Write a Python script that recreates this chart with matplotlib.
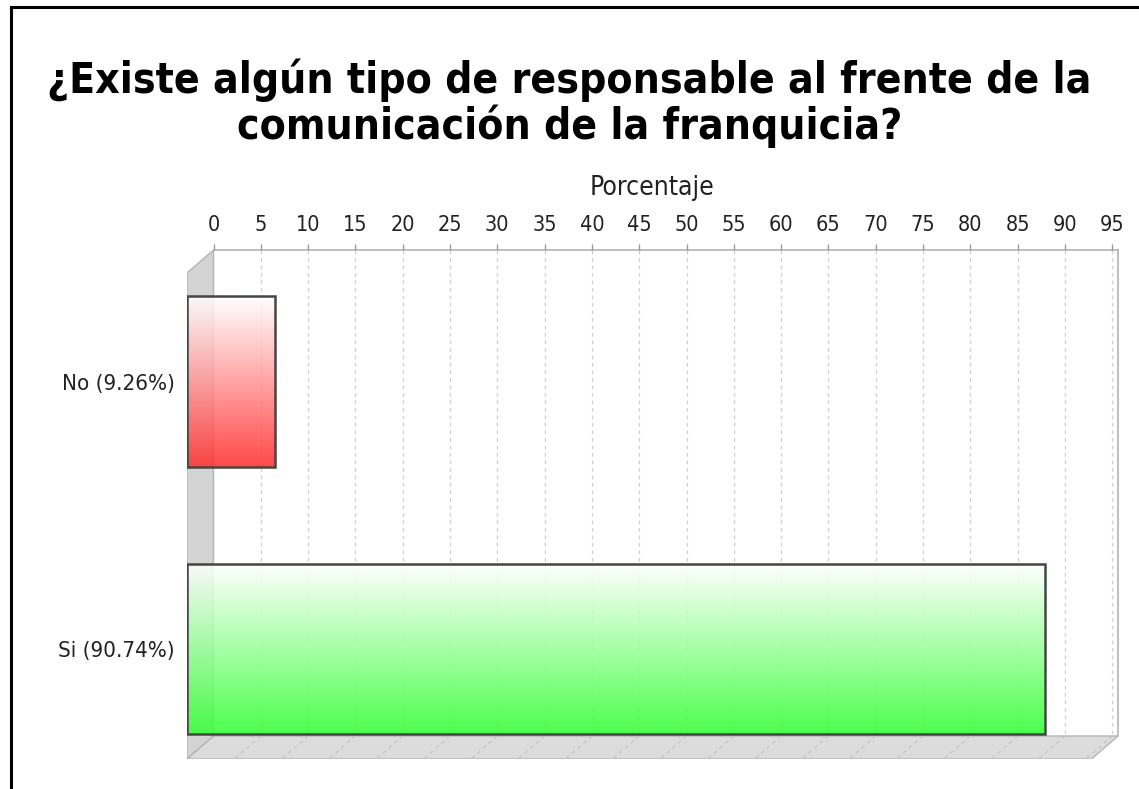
import matplotlib
matplotlib.use("Agg")
import matplotlib.pyplot as plt
import numpy as np
from matplotlib.patches import Rectangle, Polygon
from matplotlib.lines import Line2D
from matplotlib.colors import LinearSegmentedColormap

# data
categories = ["No (9.26%)", "Si (90.74%)"]
values = [9.26, 90.74]
bar_colors = ["#ff3030", "#35ff35"]
ticks = list(range(0, 96, 5))
title = "¿Existe algún tipo de responsable al frente de la\ncomunicación de la franquicia?"
axis_label = "Porcentaje"

W, H = 1139, 789
fig = plt.figure(figsize=(W / 100, H / 100), dpi=100)
fig.patch.set_facecolor("white")

# plot area in pixels (front-left to back-right of the 3d box)
left_px, right_px, top_px, bottom_px = 187, 1118, 250, 759
ax = fig.add_axes([left_px / W, 1 - bottom_px / H,
                   (right_px - left_px) / W, (bottom_px - top_px) / H])

px_per_unit = 9.46
dx = 26.5 / px_per_unit          # depth offset in value units
xmin = -dx
xmax = xmin + (right_px - left_px) / px_per_unit

y_top, y_bot = -0.4916, 1.411    # category axis limits
px_per_cat = (bottom_px - top_px) / (y_bot - y_top)
dy = 23 / px_per_cat             # depth offset in category units
back_bot = y_bot - dy
front_top = y_top + dy
bar_h = 0.636

ax.set_xlim(xmin, xmax)
ax.set_ylim(y_bot, y_top)
for s in ax.spines.values():
    s.set_visible(False)
ax.set_facecolor("none")

edge = "#b4b4b4"
wall = "#d4d4d4"
# back wall
ax.add_patch(Rectangle((0, y_top), xmax, back_bot - y_top, facecolor="white",
                       edgecolor="none", zorder=0))
# left side wall
ax.add_patch(Polygon([(xmin, front_top), (0, y_top), (0, back_bot), (xmin, y_bot)],
                     closed=True, facecolor=wall, edgecolor=edge, lw=1, zorder=0.5))
# floor
ax.add_patch(Polygon([(xmin, y_bot), (0, back_bot), (xmax, back_bot), (xmax - dx, y_bot)],
                     closed=True, facecolor="#dcdcdc", edgecolor=edge, lw=1, zorder=0.5))
# top axis line and right edge
ax.plot([0, xmax], [y_top, y_top], color=edge, lw=1.2, zorder=1, clip_on=False)
ax.plot([xmax, xmax], [y_top, back_bot], color=edge, lw=1.2, zorder=1, clip_on=False)

# grid lines on back wall and floor
for t in ticks:
    if t == 0:
        continue
    ax.plot([t, t], [y_top, back_bot], color="#cfcfcf", lw=0.9,
            dashes=(3, 3), zorder=1)
    ax.plot([t, t - dx], [back_bot, y_bot], color="#c4c4c4", lw=0.9,
            dashes=(3, 3), zorder=1)

# bars with vertical gradient
for i, (v, c) in enumerate(zip(values, bar_colors)):
    x0 = xmin
    y0 = i - bar_h / 2
    cmap = LinearSegmentedColormap.from_list("g%d" % i, ["white", c])
    grad = np.linspace(0, 1, 256).reshape(-1, 1)
    clip = Rectangle((x0, y0), v, bar_h, transform=ax.transData)
    im = ax.imshow(grad, cmap=cmap, extent=[x0, x0 + v, y0 + bar_h, y0],
                   origin="upper", aspect="auto", alpha=0.88, zorder=3)
    im.set_clip_path(clip)
    ax.add_patch(Rectangle((x0, y0), v, bar_h, fill=False,
                           edgecolor="#454545", lw=1.8, zorder=4))

ax.set_xlim(xmin, xmax)
ax.set_ylim(y_bot, y_top)

label_font = dict(family="DejaVu Sans", stretch="condensed")
ax.xaxis.tick_top()
ax.xaxis.set_label_position("top")
ax.set_xticks(ticks)
ax.set_xticklabels([str(t) for t in ticks], fontsize=15.5, **label_font)
ax.tick_params(axis="x", length=4, width=1, color="#999999", pad=7, labelcolor="#222222")
ax.set_xlabel(axis_label, fontsize=19, labelpad=14, color="#222222", **label_font)

ax.set_yticks(range(len(categories)))
ax.set_yticklabels(categories, fontsize=16, **label_font)
ax.tick_params(axis="y", length=0, pad=9, labelcolor="#222222")

fig.text(0.5, 1 - 103 / H, title, ha="center", va="center", fontsize=30.5,
         fontweight="bold", family="DejaVu Sans", stretch="condensed",
         linespacing=1.08, color="black")

# outer frame (left and top edges)
fig.add_artist(Line2D([11 / W, 11 / W], [0, 1 - 7 / H], color="black", lw=2.2,
                      transform=fig.transFigure))
fig.add_artist(Line2D([11 / W, 1], [1 - 7 / H, 1 - 7 / H], color="black", lw=2.2,
                      transform=fig.transFigure))

fig.savefig("out.png", dpi=100)
